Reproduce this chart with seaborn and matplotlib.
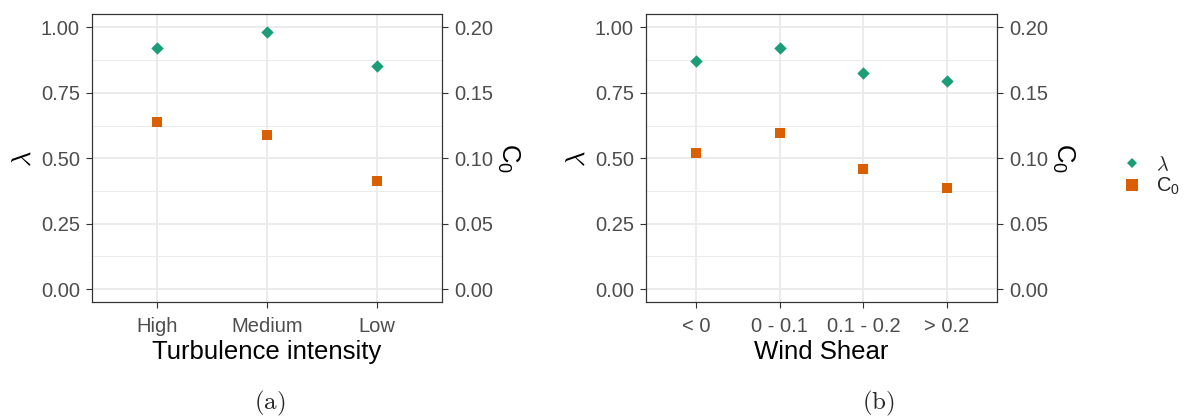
import numpy as np
import pandas as pd
import matplotlib
matplotlib.use('Agg')
import matplotlib.pyplot as plt
import seaborn as sns
from matplotlib.lines import Line2D
from matplotlib.ticker import FormatStrFormatter

# panel (a): turbulence intensity
ti_classes = ['High', 'Medium', 'Low']
ti_lambda = [0.920, 0.981, 0.854]
ti_c0 = [0.128, 0.118, 0.0825]

# panel (b): wind shear
ws_classes = ['< 0', '0 - 0.1', '0.1 - 0.2', '> 0.2']
ws_lambda = [0.870, 0.923, 0.824, 0.796]
ws_c0 = [0.104, 0.119, 0.092, 0.077]

lambda_ticks = [0.0, 0.25, 0.5, 0.75, 1.0]
c0_ticks = [0.0, 0.05, 0.10, 0.15, 0.20]

GREEN = '#1B9E77'
ORANGE = '#D95F02'
GRID = '#EBEBEB'
DARK = '#333333'
TICKTXT = '#4D4D4D'

sns.set_theme(style='white')
plt.rcParams['font.family'] = ['Liberation Sans', 'DejaVu Sans']
plt.rcParams['mathtext.fontset'] = 'cm'

W, H = 1185, 419
fig = plt.figure(figsize=(W / 100, H / 100), dpi=100)


def twin_panel(rect, classes, lam, c0, xlabel):
    ax = fig.add_axes(rect)
    df = pd.DataFrame({'cls': classes, 'lam': lam, 'c0': c0})
    sns.scatterplot(data=df, x='cls', y='lam', marker='D', s=40,
                    color=GREEN, linewidth=0, ax=ax, zorder=3)
    ax2 = ax.twinx()
    sns.scatterplot(data=df, x='cls', y='c0', marker='s', s=44,
                    color=ORANGE, linewidth=0, ax=ax2, zorder=3)

    n = len(classes)
    ax.set_xlim(-0.6, n - 0.4)
    ax.set_ylim(-0.05, 1.05)
    ax2.set_ylim(-0.01, 0.21)

    ax.set_yticks(lambda_ticks)
    ax.set_yticks([0.125, 0.375, 0.625, 0.875], minor=True)
    ax.yaxis.set_major_formatter(FormatStrFormatter('%.2f'))
    ax2.set_yticks(c0_ticks)
    ax2.yaxis.set_major_formatter(FormatStrFormatter('%.2f'))

    ax.grid(True, which='major', color=GRID, linewidth=1.4)
    ax.grid(True, which='minor', axis='y', color=GRID, linewidth=0.7)
    ax.set_axisbelow(True)
    ax2.grid(False)

    for a in (ax, ax2):
        for sp in a.spines.values():
            sp.set_color(DARK)
            sp.set_linewidth(0.8)
        a.tick_params(which='major', length=4.5, width=0.8, color=DARK,
                      labelsize=14.5, labelcolor=TICKTXT, pad=4)
        a.tick_params(which='minor', length=0)
    ax.tick_params(axis='y', left=True, right=False)
    ax.tick_params(axis='x', bottom=True, pad=6)
    ax2.tick_params(axis='y', right=True, left=False)

    ax.set_xlabel(xlabel, fontsize=18.5, color='black', labelpad=3)
    ax.set_ylabel(r'$\lambda$', fontsize=19, color='black', labelpad=4)
    ax2.set_ylabel(r'$\mathregular{C_0}$', fontsize=18.5, color='black',
                   rotation=270, labelpad=20)
    return ax, ax2


bottom = 1 - 302.3 / H
height = (302.3 - 14.3) / H
twin_panel([91.7 / W, bottom, 350.6 / W, height],
           ti_classes, ti_lambda, ti_c0, 'Turbulence intensity')
twin_panel([645.7 / W, bottom, 351.6 / W, height],
           ws_classes, ws_lambda, ws_c0, 'Wind Shear')

fig.text(270 / W, 1 - 403 / H, r'$\mathrm{(a)}$', fontsize=18,
         ha='center', va='center')
fig.text(878 / W, 1 - 403 / H, r'$\mathrm{(b)}$', fontsize=18,
         ha='center', va='center')

handles = [
    Line2D([], [], marker='D', linestyle='none', color=GREEN,
           markersize=5.5, markeredgewidth=0),
    Line2D([], [], marker='s', linestyle='none', color=ORANGE,
           markersize=8, markeredgewidth=0),
]
leg = fig.legend(handles, [r'$\lambda$', r'$\mathregular{C_0}$'],
                 loc='center left', bbox_to_anchor=(1104 / W, 1 - 176 / H),
                 frameon=False, fontsize=14.5, handlelength=1.0,
                 handletextpad=0.7, labelspacing=0.1, borderpad=0.4)

fig.savefig('out.png', dpi=100)
plt.close(fig)
